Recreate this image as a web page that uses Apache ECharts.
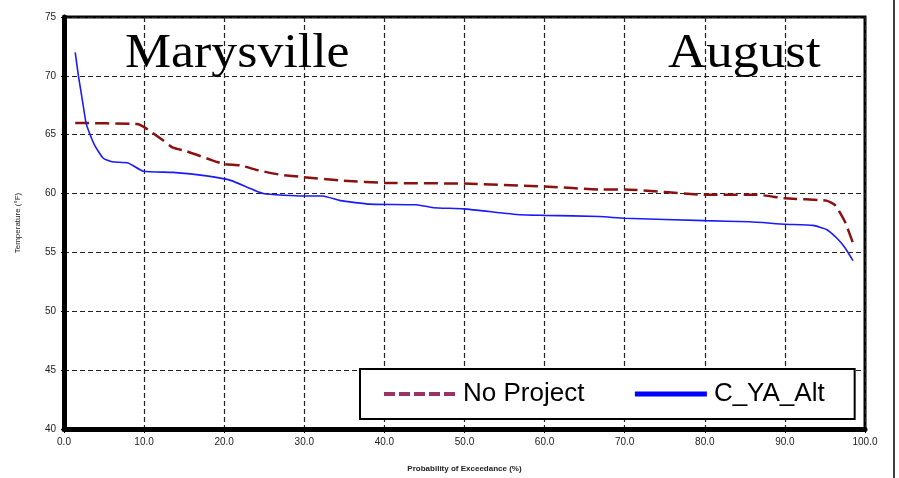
<!DOCTYPE html>
<html>
<head>
<meta charset="utf-8">
<script src="https://cdn.jsdelivr.net/npm/echarts@6/dist/echarts.min.js"></script>
<style>
  html, body { margin: 0; padding: 0; background: #fff; }
  #chart { width: 899px; height: 478px; }
</style>
</head>
<body>
<div id="chart"></div>
<script>
// exceedance probability (%) and temperature (F)
var noProjectX = [1.4, 9.1, 10.1, 12.4, 13.6, 15.3, 18.6, 20.1, 22.0, 24.1, 27.0, 29.9, 34.9, 40.3, 49.9, 60.0, 66.9, 70.0, 80.0, 86.5, 90.0, 95.2, 96.3, 97.5, 98.5];
var noProjectY = [66.0, 65.9, 65.6, 64.5, 63.9, 63.6, 62.8, 62.5, 62.4, 62.0, 61.6, 61.4, 61.1, 60.9, 60.85, 60.6, 60.35, 60.35, 59.9, 59.9, 59.6, 59.4, 59.0, 57.6, 55.8];
var altX = [1.4, 1.8, 2.3, 2.75, 3.2, 3.9, 4.9, 6.0, 8.0, 9.9, 13.6, 17.8, 20.9, 24.9, 29.9, 32.3, 34.5, 38.2, 44.0, 46.1, 49.9, 56.9, 60.0, 66.9, 70.0, 80.0, 85.6, 90.0, 93.5, 95.2, 96.5, 97.5, 98.5];
var altY = [72.0, 70.0, 67.9, 66.0, 65.1, 64.0, 63.0, 62.7, 62.6, 61.9, 61.8, 61.5, 61.1, 60.0, 59.8, 59.8, 59.4, 59.1, 59.05, 58.8, 58.7, 58.2, 58.15, 58.05, 57.9, 57.7, 57.6, 57.4, 57.3, 56.95, 56.2, 55.4, 54.3];

function pairs(xs, ys) {
    var out = [];
    for (var i = 0; i < xs.length; i++) out.push([xs[i], ys[i]]);
    return out;
}

var chart = echarts.init(document.getElementById('chart'));

var gridLine = { show: true, lineStyle: { color: '#222', width: 1.2, type: [5, 3] } };

var option = {
    animation: false,
    backgroundColor: '#fff',
    grid: { left: 64, right: 34, top: 17, bottom: 45, show: true, borderColor: '#000', borderWidth: 3, backgroundColor: 'transparent' },
    xAxis: {
        type: 'value', min: 0, max: 100, interval: 10,
        name: 'Probability of Exceedance (%)', nameLocation: 'middle', nameGap: 36,
        nameTextStyle: { fontFamily: 'Arial, Liberation Sans', fontSize: 8, fontWeight: 'bold', color: '#222' },
        axisLine: { lineStyle: { color: '#000', width: 5 } },
        axisTick: { show: true, length: 4, lineStyle: { color: '#000', width: 1 } },
        minorTick: { show: true, splitNumber: 10, length: 3, lineStyle: { color: '#000', width: 1 } },
        axisLabel: { fontFamily: 'Arial, Liberation Sans', fontSize: 10, color: '#222', margin: 8,
            formatter: function (v) { return v.toFixed(1); } },
        splitLine: gridLine
    },
    yAxis: {
        type: 'value', min: 40, max: 75, interval: 5,
        name: 'Temperature (°F)', nameLocation: 'middle', nameGap: 42, nameRotate: 90,
        nameTextStyle: { fontFamily: 'Arial, Liberation Sans', fontSize: 8, color: '#222' },
        axisLine: { show: true, lineStyle: { color: '#000', width: 5 } },
        axisTick: { show: true, length: 3, lineStyle: { color: '#000' } },
        axisLabel: { fontFamily: 'Arial, Liberation Sans', fontSize: 10, color: '#222', margin: 8 },
        splitLine: gridLine
    },
    legend: {
        left: 360, top: 369,
        padding: [12, 30, 12, 22],
        backgroundColor: '#fff', borderColor: '#000', borderWidth: 2,
        itemWidth: 72, itemHeight: 14, itemGap: 48,
        textStyle: { fontFamily: 'Arial, Liberation Sans', fontSize: 26, color: '#000', padding: [0, 0, 0, 2] },
        data: [
            { name: 'No Project', itemStyle: { opacity: 0 }, lineStyle: { color: '#993366', width: 4, type: [11, 4] } },
            { name: 'C_YA_Alt', itemStyle: { opacity: 0 }, lineStyle: { color: '#0000ff', width: 5 } }
        ]
    },
    graphic: [
        { type: 'text', left: 125, top: 30, z: 10, scaleX: 1.08,
          style: { text: 'Marysville', font: '48px "Liberation Serif", "Times New Roman", serif', fill: '#000' } },
        { type: 'text', left: 668, top: 30, z: 10, scaleX: 1.1,
          style: { text: 'August', font: '48px "Liberation Serif", "Times New Roman", serif', fill: '#000' } },
        { type: 'line', shape: { x1: 894, y1: 0, x2: 894, y2: 478 }, style: { stroke: '#000', lineWidth: 1.5 } }
    ],
    series: [
        {
            name: 'No Project', type: 'line', symbol: 'none', smooth: 0.15,
            lineStyle: { color: '#8b1010', width: 2.5, type: [14, 6] },
            itemStyle: { color: '#8b1010' },
            data: pairs(noProjectX, noProjectY)
        },
        {
            name: 'C_YA_Alt', type: 'line', symbol: 'none', smooth: 0.15,
            lineStyle: { color: '#1a1aff', width: 1.6 },
            itemStyle: { color: '#1a1aff' },
            data: pairs(altX, altY)
        }
    ]
};

chart.setOption(option);
</script>
</body>
</html>
